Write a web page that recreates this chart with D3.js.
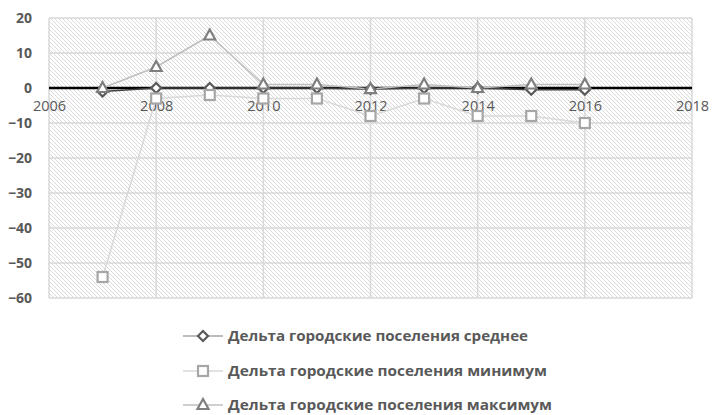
<!DOCTYPE html>
<html><head><meta charset="utf-8">
<script src="https://cdn.jsdelivr.net/npm/d3@7"></script>
<style>body{margin:0;background:#fff}svg{display:block}</style>
</head><body>
<svg id="c" width="712" height="415"></svg>
<script>
const years = [2007,2008,2009,2010,2011,2012,2013,2014,2015,2016];
const meanVals = [-1,0,0,0,0,-0.3,0,0,-0.5,-0.5];
const minVals = [-54,-3,-2,-3,-3,-8,-3,-8,-8,-10];
const maxVals = [0,6,15,1,1,-0.3,1,0,1,1];
const xTicks = [2006,2008,2010,2012,2014,2016,2018];
const yTicks = [20,10,0,-10,-20,-30,-40,-50,-60];
const seriesNames = ["Дельта городские поселения среднее","Дельта городские поселения минимум","Дельта городские поселения максимум"];

const svg = d3.select("#c");
const font = "'Open Sans', 'DejaVu Sans', sans-serif";
const x = d3.scaleLinear().domain([2006,2018]).range([49,692]);
const y = d3.scaleLinear().domain([-60,20]).range([298,18]);

const defs = svg.append("defs");
const pat = defs.append("pattern").attr("id","hatch").attr("patternUnits","userSpaceOnUse")
  .attr("width",4).attr("height",4);
pat.append("rect").attr("width",4).attr("height",4).attr("fill","#fff");
pat.append("path").attr("d","M-1,-1 L5,5 M-1,3 L1,5 M3,-1 L5,1").attr("stroke","#dadada").attr("stroke-width",1);

svg.append("rect").attr("x",x(2006)).attr("y",y(20)).attr("width",x(2018)-x(2006)).attr("height",y(-60)-y(20)).attr("fill","url(#hatch)");

// gridlines
svg.append("g").selectAll("line").data(yTicks).join("line")
  .attr("x1",x(2006)).attr("x2",x(2018)).attr("y1",d=>y(d)).attr("y2",d=>y(d))
  .attr("stroke","#d9d9d9").attr("stroke-width",1.5);
svg.append("g").selectAll("line").data(xTicks).join("line")
  .attr("x1",d=>x(d)).attr("x2",d=>x(d)).attr("y1",y(20)).attr("y2",y(-60))
  .attr("stroke","#d9d9d9").attr("stroke-width",1.5);

// y labels
const yAxis = d3.axisLeft(y).tickValues(yTicks).tickSize(0).tickPadding(0);
const ya = svg.append("g").attr("transform","translate(32,0)").call(yAxis);
ya.select(".domain").remove();
ya.selectAll("text").attr("font-family",font).attr("font-size",14).attr("font-weight","bold").attr("fill","#595959").attr("dy","0.35em");

// zero axis line
svg.append("line").attr("x1",x(2006)).attr("x2",x(2018)).attr("y1",y(0)).attr("y2",y(0)).attr("stroke","#000").attr("stroke-width",2.5);

// x labels
const xAxis = d3.axisBottom(x).tickValues(xTicks).tickFormat(d3.format("d")).tickSize(0).tickPadding(0);
const xa = svg.append("g").attr("transform",`translate(0,${y(0)+18})`).call(xAxis);
xa.select(".domain").remove();
xa.selectAll("text").attr("font-family",font).attr("font-size",14.5).attr("fill","#595959").attr("dy","0.35em");

const line = d3.line().x(d=>x(d[0])).y(d=>y(d[1]));
const styles = [
  {vals:meanVals, line:"#404040", lw:1.5, mk:"#595959", type:"diamond"},
  {vals:minVals, line:"#d9d9d9", lw:1.5, mk:"#a6a6a6", type:"square"},
  {vals:maxVals, line:"#bfbfbf", lw:1.5, mk:"#7f7f7f", type:"triangle"}
];
function marker(g, type, color){
  if(type==="diamond") g.append("path").attr("d","M0,-5 L5,0 L0,5 L-5,0Z");
  else if(type==="square") g.append("rect").attr("x",-5).attr("y",-5).attr("width",10).attr("height",10);
  else g.append("path").attr("d","M0,-6 L5.5,4 L-5.5,4Z");
  g.selectAll("*").attr("fill","#fff").attr("stroke",color).attr("stroke-width",2.2);
}
styles.forEach(s=>{
  const pts = years.map((yr,i)=>[yr,s.vals[i]]);
  svg.append("path").attr("d",line(pts)).attr("fill","none").attr("stroke",s.line).attr("stroke-width",s.lw);
});
styles.forEach(s=>{
  const pts = years.map((yr,i)=>[yr,s.vals[i]]);
  svg.append("g").selectAll("g").data(pts).join("g")
    .attr("transform",d=>`translate(${x(d[0])},${y(d[1])})`)
    .each(function(){ marker(d3.select(this), s.type, s.mk); });
});

// legend
const legY = [336,371,405];
const legLine = ["#a6a6a6","#d9d9d9","#bfbfbf"];
const legW = [300,319,324];
styles.forEach((s,i)=>{
  const g = svg.append("g").attr("transform",`translate(0,${legY[i]})`);
  g.append("line").attr("x1",183).attr("x2",223).attr("stroke",legLine[i]).attr("stroke-width",1.5);
  const m = g.append("g").attr("transform","translate(203,0)");
  marker(m, s.type, s.mk);
  g.append("text").attr("x",228).attr("dy","0.35em").attr("font-family",font).attr("font-size",14.5)
    .attr("font-weight","bold").attr("fill","#595959")
    .attr("textLength",legW[i]).attr("lengthAdjust","spacingAndGlyphs").text(seriesNames[i]);
});
</script>
</body></html>
